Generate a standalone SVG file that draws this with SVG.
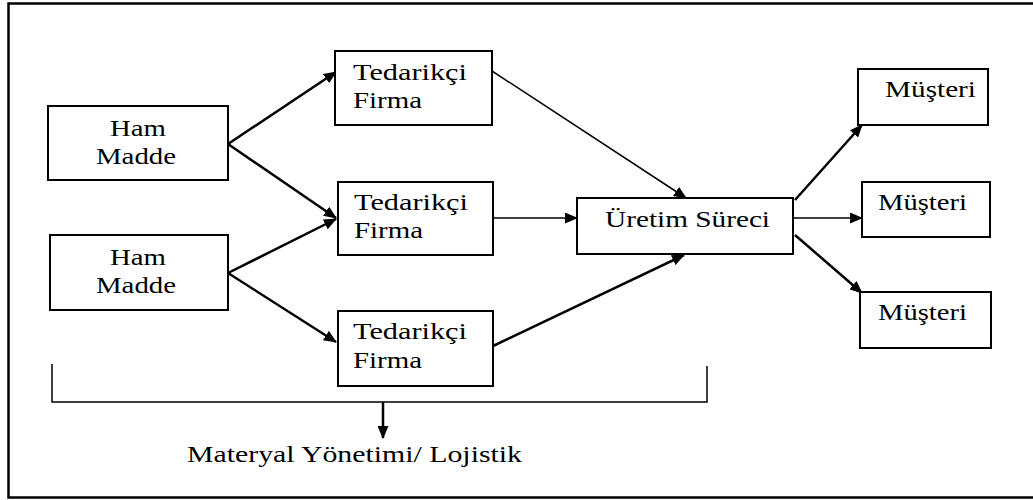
<svg xmlns="http://www.w3.org/2000/svg" width="1033" height="500" viewBox="0 0 1033 500">
<style>
.box{fill:#fff;stroke:#000;stroke-width:2}
.t{font-family:'Liberation Serif','DejaVu Serif','Times New Roman',serif;font-size:23px;fill:#000}
.c{fill:none;stroke:#000;stroke-width:2.5}
.thin{fill:none;stroke:#000;stroke-width:1.5}
.frame{fill:none;stroke:#000;stroke-width:2.5}
</style>
<defs>
<marker id="ah" markerWidth="13" markerHeight="11" refX="12" refY="5.5" orient="auto" markerUnits="userSpaceOnUse">
<path d="M0,0 L13,5.5 L0,11 z" fill="#000"/>
</marker>
</defs>
<rect width="1033" height="500" fill="#fff"/>
<g id="frame">
<path class="frame" d="M1033,3.5 H8.5 V497.5 H1033"/>
</g>
<g id="connectors">
<line class="c" x1="228" y1="144" x2="336" y2="72" marker-end="url(#ah)"/>
<line class="c" x1="228" y1="144" x2="336" y2="218" marker-end="url(#ah)"/>
<line class="c" x1="228" y1="273" x2="336" y2="219" marker-end="url(#ah)"/>
<line class="c" x1="228" y1="273" x2="336" y2="342" marker-end="url(#ah)"/>
<line class="thin" x1="492" y1="71" x2="686" y2="198" marker-end="url(#ah)"/>
<line class="thin" x1="493" y1="218" x2="577" y2="218" marker-end="url(#ah)"/>
<line class="c" x1="493" y1="346" x2="684" y2="255" marker-end="url(#ah)"/>
<line class="c" x1="795" y1="200" x2="862" y2="125" marker-end="url(#ah)"/>
<line class="thin" x1="793" y1="218" x2="862" y2="218" marker-end="url(#ah)"/>
<line class="c" x1="795" y1="235" x2="862" y2="293" marker-end="url(#ah)"/>
<path class="thin" d="M52,364 V402 H707 V366"/>
<line class="c" x1="383" y1="402" x2="383" y2="438" marker-end="url(#ah)"/>
</g>
<g id="hm1">
<rect class="box" x="48" y="106" width="180" height="74"/>
<text class="t" font-family="Liberation Serif, DejaVu Serif, serif" x="110" y="136" textLength="56" lengthAdjust="spacingAndGlyphs">Ham</text>
<text class="t" font-family="Liberation Serif, DejaVu Serif, serif" x="96" y="164" textLength="80" lengthAdjust="spacingAndGlyphs">Madde</text>
</g>
<g id="hm2">
<rect class="box" x="50" y="235" width="178" height="75"/>
<text class="t" font-family="Liberation Serif, DejaVu Serif, serif" x="110" y="265" textLength="56" lengthAdjust="spacingAndGlyphs">Ham</text>
<text class="t" font-family="Liberation Serif, DejaVu Serif, serif" x="96" y="293" textLength="80" lengthAdjust="spacingAndGlyphs">Madde</text>
</g>
<g id="t1">
<rect class="box" x="335" y="51" width="157" height="74"/>
<text class="t" font-family="Liberation Serif, DejaVu Serif, serif" x="353" y="80" textLength="114" lengthAdjust="spacingAndGlyphs">Tedarikçi</text>
<text class="t" font-family="Liberation Serif, DejaVu Serif, serif" x="353" y="108" textLength="69" lengthAdjust="spacingAndGlyphs">Firma</text>
</g>
<g id="t2">
<rect class="box" x="338" y="182" width="155" height="73"/>
<text class="t" font-family="Liberation Serif, DejaVu Serif, serif" x="354" y="210" textLength="114" lengthAdjust="spacingAndGlyphs">Tedarikçi</text>
<text class="t" font-family="Liberation Serif, DejaVu Serif, serif" x="354" y="238" textLength="69" lengthAdjust="spacingAndGlyphs">Firma</text>
</g>
<g id="t3">
<rect class="box" x="338" y="311" width="155" height="75"/>
<text class="t" font-family="Liberation Serif, DejaVu Serif, serif" x="353" y="339" textLength="114" lengthAdjust="spacingAndGlyphs">Tedarikçi</text>
<text class="t" font-family="Liberation Serif, DejaVu Serif, serif" x="353" y="368" textLength="69" lengthAdjust="spacingAndGlyphs">Firma</text>
</g>
<g id="uretim">
<rect class="box" x="577" y="198" width="216" height="56"/>
<text class="t" font-family="Liberation Serif, DejaVu Serif, serif" x="605" y="227" textLength="165" lengthAdjust="spacingAndGlyphs">Üretim Süreci</text>
</g>
<g id="m1">
<rect class="box" x="858" y="69" width="130" height="56"/>
<text class="t" font-family="Liberation Serif, DejaVu Serif, serif" x="885" y="97" textLength="91" lengthAdjust="spacingAndGlyphs">Müşteri</text>
</g>
<g id="m2">
<rect class="box" x="862" y="182" width="128" height="55"/>
<text class="t" font-family="Liberation Serif, DejaVu Serif, serif" x="878" y="210" textLength="89" lengthAdjust="spacingAndGlyphs">Müşteri</text>
</g>
<g id="m3">
<rect class="box" x="860" y="292" width="131" height="56"/>
<text class="t" font-family="Liberation Serif, DejaVu Serif, serif" x="878" y="320" textLength="89" lengthAdjust="spacingAndGlyphs">Müşteri</text>
</g>
<g id="label">
<text class="t" font-family="Liberation Serif, DejaVu Serif, serif" x="187" y="462" textLength="335" lengthAdjust="spacingAndGlyphs">Materyal Yönetimi/ Lojistik</text>
</g>
</svg>
